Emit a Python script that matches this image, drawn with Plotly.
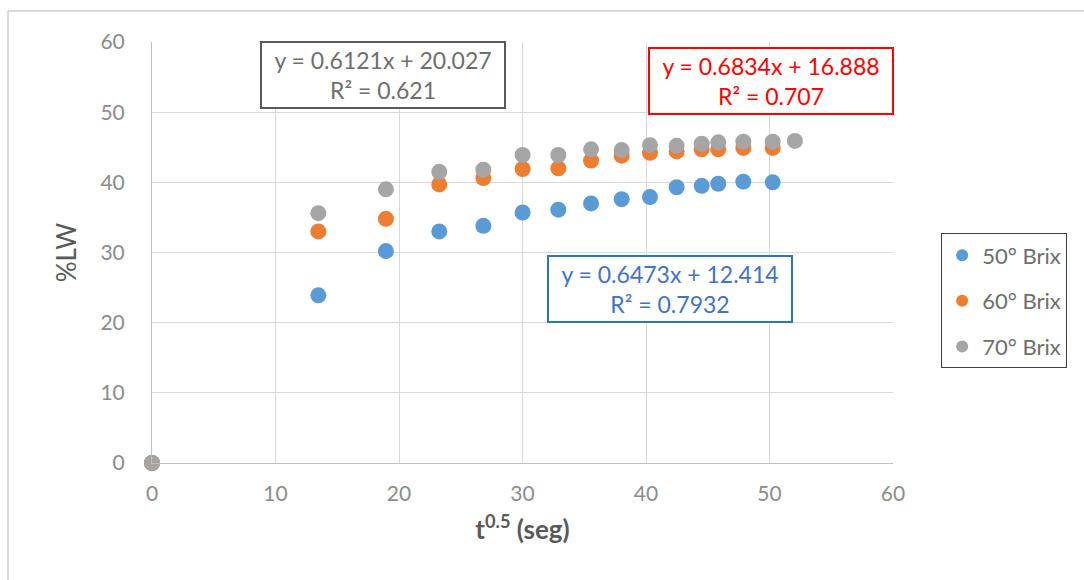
import plotly.graph_objects as go

# ---- data ----
x_common = [0, 13.47, 18.94, 23.26, 26.83, 30.01, 32.90, 35.55, 38.03, 40.32,
            42.48, 44.51, 45.85, 47.88, 50.26]
x_70 = x_common + [52.06]

y_50 = [0, 23.9, 30.2, 33.0, 33.8, 35.7, 36.1, 37.0, 37.6, 37.9, 39.3, 39.5, 39.8, 40.1, 40.0]
y_60 = [0, 33.0, 34.8, 39.7, 40.6, 41.9, 42.0, 43.1, 43.8, 44.2, 44.4, 44.7, 44.7, 44.9, 44.9]
y_70 = [0, 35.6, 39.0, 41.5, 41.8, 43.9, 43.9, 44.7, 44.6, 45.3, 45.2, 45.5, 45.7, 45.8, 45.8, 45.9]

series_names = ["50° Brix", "60° Brix", "70° Brix"]
series_colors = ["#5B9BD5", "#ED7D31", "#A5A5A5"]

eq_texts = ["y = 0.6121x + 20.027<br>R² = 0.621",
            "y = 0.6834x + 16.888<br>R² = 0.707",
            "y = 0.6473x + 12.414<br>R² = 0.7932"]
eq_colors = ["#6E6E6E", "#FF0000", "#4472C4"]
eq_border = ["#595959", "#FF0000", "#2E75B6"]
eq_pos = [(18.74, 55.29), (50.12, 54.44), (41.94, 24.80)]

tick_vals = [0, 10, 20, 30, 40, 50, 60]

FONT = "Lato"

fig = go.Figure()
for name, xs, ys, col in zip(series_names, [x_common, x_common, x_70],
                             [y_50, y_60, y_70], series_colors):
    fig.add_trace(go.Scatter(
        x=xs, y=ys, mode="markers", name=name, legendgroup=name,
        cliponaxis=False,
        marker=dict(color=col, size=16, line=dict(width=0)),
    ))

for txt, col, bcol, (ax, ay) in zip(eq_texts, eq_colors, eq_border, eq_pos):
    fig.add_annotation(
        x=ax, y=ay, xref="x", yref="y", text=txt, showarrow=False,
        font=dict(family=FONT, size=23, color=col),
        bordercolor=bcol, borderwidth=2, bgcolor="white",
        width=240, height=62, align="center",
    )

# outer frame lines (top and left)
fig.add_shape(type="line", xref="paper", yref="paper",
              x0=-0.1943, x1=1.3, y0=1.0736, y1=1.0736,
              line=dict(color="#D9D9D9", width=2))
fig.add_shape(type="line", xref="paper", yref="paper",
              x0=-0.1943, x1=-0.1943, y0=-0.3, y1=1.0736,
              line=dict(color="#D9D9D9", width=2))

fig.update_layout(
    width=1084, height=580,
    margin=dict(l=152, r=191, t=42, b=117),
    paper_bgcolor="white", plot_bgcolor="white",
    font=dict(family=FONT, color="#7F7F7F"),
    showlegend=True,
    legend=dict(
        x=1.065, y=0.385, xanchor="left", yanchor="middle",
        bordercolor="#404040", borderwidth=1,
        font=dict(family=FONT, size=22, color="#6E6E6E"),
        traceorder="grouped", tracegroupgap=14,
        itemsizing="constant", itemwidth=30,
    ),
    xaxis=dict(
        range=[0, 60], tickvals=tick_vals, showgrid=True, gridcolor="#D9D9D9",
        zeroline=False, showline=True, linecolor="#BFBFBF", mirror=False,
        tickfont=dict(family=FONT, size=21, color="#8C8C8C"),
        ticklabelstandoff=12,
        title=dict(text="<b>t<sup>0.5</sup> (seg)</b>", standoff=16,
                   font=dict(family=FONT, size=26, color="#595959")),
    ),
    yaxis=dict(
        range=[0, 60], tickvals=tick_vals, showgrid=True, gridcolor="#D9D9D9",
        zeroline=False, showline=True, linecolor="#BFBFBF",
        tickfont=dict(family=FONT, size=21, color="#8C8C8C"),
        ticklabelstandoff=22,
        title=dict(text="%LW", standoff=16,
                   font=dict(family=FONT, size=26, color="#595959")),
    ),
)

fig.write_html("out.html")
